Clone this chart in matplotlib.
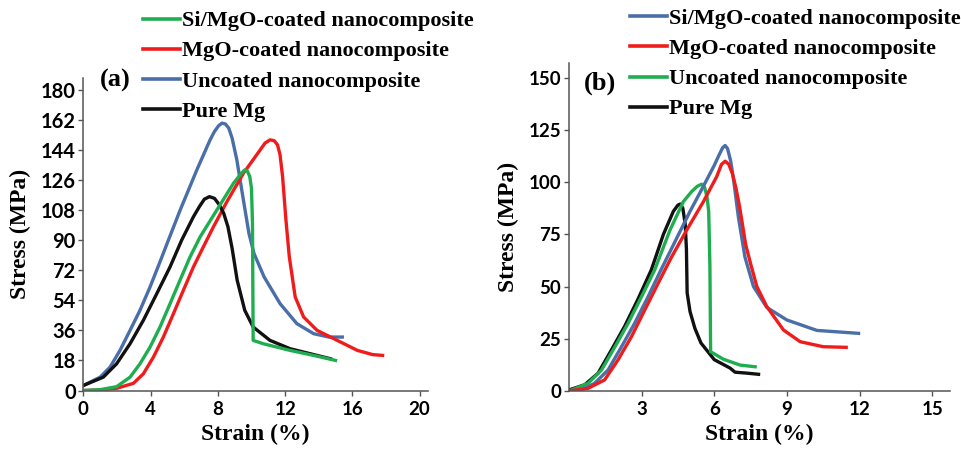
import numpy as np
import matplotlib.pyplot as plt
from matplotlib.lines import Line2D

plt.rcParams['font.family'] = ['Lato', 'DejaVu Sans']

BLUE = '#4a6ea8'
RED = '#f01c1c'
GREEN = '#1fae4f'
BLACK = '#111111'

# ---- panel (a) data: strain (%) / stress (MPa) ----
a_blue_x = [0, 1.0, 1.59, 2.18, 2.78, 3.37, 3.97, 4.56, 5.06, 5.76, 6.75, 7.54, 7.8, 8.05, 8.25, 8.45, 8.65, 8.85, 9.13, 9.52, 9.85, 10.15, 10.75, 11.7, 12.7, 13.7, 14.6, 15.4]
a_blue_y = [3, 8, 14, 24, 36, 48, 62, 77, 90, 108, 132, 150, 155, 158.5, 160, 159.5, 157, 151, 138, 114, 94, 82, 68, 52, 40, 34, 32, 32]

a_black_x = [0, 1.19, 1.98, 2.78, 3.57, 4.37, 5.16, 5.85, 6.55, 6.9, 7.2, 7.5, 7.8, 8.1, 8.35, 8.6, 8.85, 9.15, 9.6, 10.1, 11.1, 12.3, 13.5, 14.7]
a_black_y = [3, 8, 16, 28, 42, 58, 74, 90, 104, 110, 114.5, 116, 115, 111, 106, 98, 85, 66, 48, 38, 30, 25, 22, 19]

a_green_x = [0, 1.0, 1.98, 2.78, 3.37, 3.97, 4.56, 5.16, 5.75, 6.35, 6.95, 7.94, 8.93, 9.4, 9.6, 9.75, 9.9, 10.0, 10.06, 10.1, 10.7, 12.3, 13.7, 15.0]
a_green_y = [0, 0.5, 2.3, 8, 16, 26, 38, 52, 66, 80, 92, 108, 124, 130, 132, 131.5, 128, 121, 100, 30, 28, 24, 21, 18]

a_red_x = [0, 1.0, 1.98, 2.98, 3.57, 4.17, 4.76, 5.36, 5.95, 6.55, 7.14, 7.74, 8.54, 9.52, 10.52, 10.8, 11.1, 11.35, 11.55, 11.7, 11.85, 12.05, 12.25, 12.6, 13.1, 13.9, 15.1, 16.3, 17.2, 17.8]
a_red_y = [0, 0.3, 1.3, 4.3, 10, 20, 32, 46, 60, 74, 86, 98, 113, 130, 144, 148, 150, 149.5, 147, 141, 128, 102, 80, 56, 44, 36, 30, 24, 21.5, 21]

# ---- panel (b) data ----
b_blue_x = [0, 0.6, 1.06, 1.61, 2.16, 2.71, 3.26, 3.8, 4.4, 5.0, 5.55, 6.0, 6.2, 6.35, 6.45, 6.55, 6.68, 6.8, 7.0, 7.27, 7.62, 8.17, 9.0, 10.24, 11.96]
b_blue_y = [0, 1, 3.7, 10, 21, 32.4, 45, 58, 72, 86, 98, 108, 113, 116.5, 117.5, 116, 110, 101, 83, 64, 50, 40, 34, 29, 27.6]

b_red_x = [0, 0.79, 1.47, 2.02, 2.58, 3.13, 3.68, 4.23, 4.86, 5.55, 6.1, 6.3, 6.45, 6.6, 6.75, 6.9, 7.05, 7.3, 7.5, 7.76, 8.17, 8.86, 9.55, 10.5, 11.45]
b_red_y = [0, 1.3, 5.3, 14.8, 26, 38.8, 51.5, 64, 77, 90.6, 102.6, 108.5, 110, 108.5, 104, 97, 88, 70, 61, 50, 40.4, 29.2, 23.6, 21.2, 20.9]

b_green_x = [0, 0.79, 1.34, 1.89, 2.44, 2.99, 3.54, 4.17, 4.72, 5.07, 5.3, 5.48, 5.6, 5.7, 5.77, 5.82, 5.85, 6.38, 7.07, 7.69]
b_green_y = [0, 3.7, 10, 21, 32.4, 45, 58, 77, 90.6, 95.5, 98, 99, 97.5, 93, 86, 60, 18.8, 15.2, 12.4, 11.6]

b_black_x = [0, 0.65, 1.2, 1.75, 2.3, 2.85, 3.4, 3.9, 4.31, 4.5, 4.6, 4.7, 4.8, 4.85, 4.88, 5.0, 5.2, 5.45, 6.0, 6.65, 6.86, 7.3, 7.83]
b_black_y = [0.5, 3, 8.5, 19.6, 31, 44, 58, 75, 86, 89, 89.5, 87.5, 80, 68, 47, 38, 30, 23, 15, 11, 9, 8.6, 8]

a_labels = ['Si/MgO-coated nanocomposite', 'MgO-coated nanocomposite', 'Uncoated nanocomposite', 'Pure Mg']
a_colors = [GREEN, RED, BLUE, BLACK]
b_labels = ['Si/MgO-coated nanocomposite', 'MgO-coated nanocomposite', 'Uncoated nanocomposite', 'Pure Mg']
b_colors = [BLUE, RED, GREEN, BLACK]

a_yticks = np.arange(0, 181, 18)
a_xticks = [0, 4, 8, 12, 16, 20]
b_yticks = [0, 25, 50, 75, 100, 125, 150]
b_xticks = [3, 6, 9, 12, 15]

serif = dict(family='Liberation Serif', weight='bold')
lw = 2.4

fig = plt.figure(figsize=(9.61, 4.5), dpi=100)
ax1 = fig.add_axes([0.0867, 0.1322, 0.3587, 0.6944])
ax2 = fig.add_axes([0.5921, 0.1311, 0.3965, 0.7289])

ax1.plot(a_blue_x, a_blue_y, color=BLUE, lw=lw, solid_joinstyle='round')
ax1.plot(a_red_x, a_red_y, color=RED, lw=lw, solid_joinstyle='round')
ax1.plot(a_black_x, a_black_y, color=BLACK, lw=lw, solid_joinstyle='round')
ax1.plot(a_green_x, a_green_y, color=GREEN, lw=lw, solid_joinstyle='round')

ax2.plot(b_black_x, b_black_y, color=BLACK, lw=lw, solid_joinstyle='round')
ax2.plot(b_green_x, b_green_y, color=GREEN, lw=lw, solid_joinstyle='round')
ax2.plot(b_blue_x, b_blue_y, color=BLUE, lw=lw, solid_joinstyle='round')
ax2.plot(b_red_x, b_red_y, color=RED, lw=lw, solid_joinstyle='round')

ax1.set_xlim(0, 20.5)
ax1.set_ylim(0, 187)
ax1.set_xticks(a_xticks)
ax1.set_yticks(a_yticks)
ax2.set_xlim(0, 15.74)
ax2.set_ylim(0, 157)
ax2.set_xticks(b_xticks)
ax2.set_yticks(b_yticks)

for ax, ysz in [(ax1, 14.5), (ax2, 13.5)]:
    for s in ['top', 'right']:
        ax.spines[s].set_visible(False)
    for s in ['left', 'bottom']:
        ax.spines[s].set_color('#555555')
        ax.spines[s].set_linewidth(1.1)
    ax.tick_params(axis='both', color='#555555', length=3.5, width=1, pad=2)
    ax.tick_params(axis='y', labelsize=ysz)
    ax.tick_params(axis='x', labelsize=13.5, pad=4)
    for t in ax.get_xticklabels() + ax.get_yticklabels():
        t.set_fontweight('bold')
    ax.set_xlabel('Strain (%)', fontsize=17, labelpad=4, **serif)
    ax.set_ylabel('Stress (MPa)', fontsize=17, labelpad=7, **serif)

def legend(ax, labels, colors, x, y):
    handles = [Line2D([], [], color=c, lw=2.6) for c in colors]
    ax.legend(handles, labels, loc='upper left', bbox_to_anchor=(x, y),
              bbox_transform=fig.transFigure, frameon=False, borderpad=0,
              borderaxespad=0, handlelength=1.65, handletextpad=0.1,
              labelspacing=0.43, prop=dict(family='Liberation Serif', weight='bold', size=16))

legend(ax1, a_labels, a_colors, 0.1488, 0.976)
legend(ax2, b_labels, b_colors, 0.6555, 0.981)

fig.text(0.104, 0.822, '(a)', fontsize=19, va='center', ha='left', **serif)
fig.text(0.608, 0.815, '(b)', fontsize=19, va='center', ha='left', **serif)

fig.savefig('out.png', dpi=100)
